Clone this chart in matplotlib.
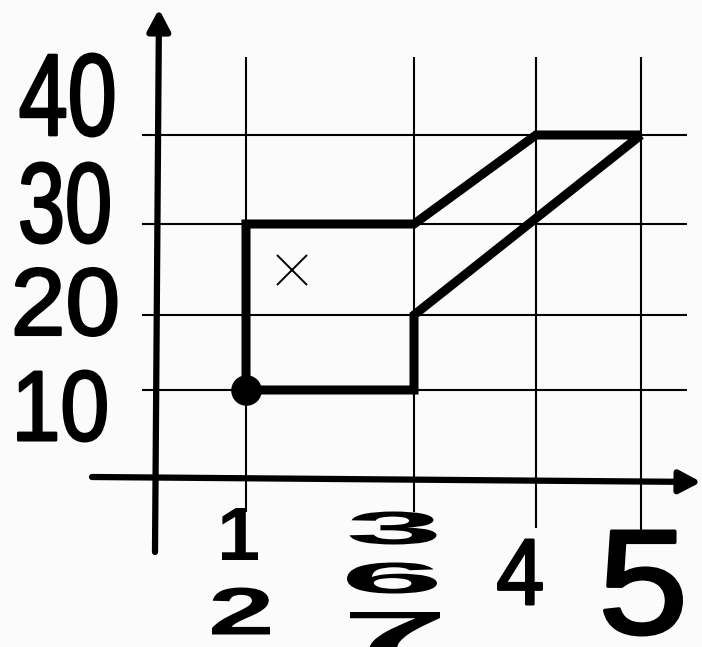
import numpy as np
import matplotlib
matplotlib.use("Agg")
import matplotlib.pyplot as plt
from matplotlib import patheffects
from matplotlib.transforms import Affine2D
from matplotlib.patches import FancyArrowPatch

# ---------------- data ----------------
x_ticks = [1, 3, 4, 5]
y_ticks = [10, 20, 30, 40]
y_tick_labels = ["10", "20", "30", "40"]
x_tick_labels = [["1", "2"], ["3", "6", "7"], ["4"], ["5"]]
# closed outline, starting and ending at the sharp corner (5, 40)
path_x = [5, 3, 3, 1, 1, 3, 4, 5]
path_y = [40, 20, 10, 10, 30, 30, 40, 40]
start_x, start_y = [1], [10]
cross_x, cross_y = [1.55], [25]

# ---------------- layout (pixels, measured from top-left) ----------------
W, H = 702, 647
x_grid_px = [246, 414, 536, 641]
y_grid_px = [390, 315, 224, 135]
vgrid_top = 57
vgrid_bottom = [512, 512, 528, 530]
hgrid_left, hgrid_right = 142, 687
# label ink boxes: (center x, center y, width, height, bold, extra stroke px)
y_label_boxes = [(62, 406, 90, 73, False, 2.5), (66, 302, 103, 70, False, 2.5),
                 (65, 203, 90, 83, False, 2.5), (67, 95, 95, 85, False, 2.5)]
x_label_boxes = [[(240, 534, 36, 52, True, 0), (241, 611, 58, 47, True, 0)],
                 [(393, 528, 87, 33, True, 0), (392, 578, 90, 31, True, 0),
                  (395, 631, 90, 38, True, 0)],
                 [(520, 572, 46, 67, False, 2.5)],
                 [(643, 583, 80, 107, False, 3.5)]]


def piecewise(vals, pix):
    vals = np.asarray(vals, float)
    pix = np.asarray(pix, float)
    s0 = (pix[1] - pix[0]) / (vals[1] - vals[0])
    s1 = (pix[-1] - pix[-2]) / (vals[-1] - vals[-2])

    def f(v):
        v = np.asarray(v, float)
        out = np.interp(v, vals, pix)
        out = np.where(v < vals[0], pix[0] + (v - vals[0]) * s0, out)
        out = np.where(v > vals[-1], pix[-1] + (v - vals[-1]) * s1, out)
        return out

    def g(p):
        p = np.asarray(p, float)
        out = np.interp(p, pix, vals)
        out = np.where(p < pix[0], vals[0] + (p - pix[0]) / s0, out)
        out = np.where(p > pix[-1], vals[-1] + (p - pix[-1]) / s1, out)
        return out
    return f, g


class FitBox(patheffects.AbstractPathEffect):
    """Draw the text glyphs stretched to a given ink box (in pixels)."""

    def __init__(self, w, h, stroke_px=0.0):
        super().__init__()
        self.w, self.h = w, h
        self.stroke_px = stroke_px
        self.text = None

    def draw_path(self, renderer, gc, tpath, affine, rgbFace=None):
        ext = affine.transform_path(tpath).get_extents()
        sx = (self.w - self.stroke_px) / max(ext.width, 1e-6)
        sy = (self.h - self.stroke_px) / max(ext.height, 1e-6)
        ax_, ay_ = self.text.get_transform().transform(self.text.get_position())
        extra = (Affine2D()
                 .translate(-(ext.x0 + ext.width / 2), -(ext.y0 + ext.height / 2))
                 .scale(sx, sy)
                 .translate(ax_, ay_))
        gc0 = renderer.new_gc()
        gc0.copy_properties(gc)
        if self.stroke_px > 0:
            gc0.set_linewidth(self.stroke_px * 72.0 / renderer.dpi)
            gc0.set_foreground(rgbFace if rgbFace is not None else "black")
            gc0.set_joinstyle("round")
        else:
            gc0.set_linewidth(0)
        renderer.draw_path(gc0, tpath, affine + extra, rgbFace)
        gc0.restore()


fig = plt.figure(figsize=(W / 100, H / 100), dpi=100)
bg = "#fbfbfc"
fig.patch.set_facecolor(bg)
ax = fig.add_axes([0, 0, 1, 1])
ax.set_facecolor(bg)
ax.set_axis_off()

fx, gx = piecewise(x_ticks, x_grid_px)
fy, gy = piecewise(y_ticks, [H - p for p in y_grid_px])
ax.set_xscale("function", functions=(fx, gx))
ax.set_yscale("function", functions=(fy, gy))
ax.set_xlim(float(gx(0)), float(gx(W)))
ax.set_ylim(float(gy(0)), float(gy(H)))

# grid lines
ax.vlines(x_ticks, [1 - b / H for b in vgrid_bottom], 1 - vgrid_top / H,
          transform=ax.get_xaxis_transform(), color="black", lw=1.5, zorder=1)
ax.hlines(y_ticks, hgrid_left / W, hgrid_right / W,
          transform=ax.get_yaxis_transform(), color="black", lw=1.5, zorder=1)

# axes with arrows
arrow_style = "-|>,head_length=0.32,head_width=0.17"
ax.add_patch(FancyArrowPatch((155 / W, 1 - 552 / H), (159 / W, 1 - 9 / H),
                             transform=ax.transAxes, arrowstyle=arrow_style,
                             mutation_scale=40, lw=4.5, color="black",
                             shrinkA=0, shrinkB=0, zorder=3))
ax.add_patch(FancyArrowPatch((92 / W, 1 - 477 / H), (701 / W, 1 - 482 / H),
                             transform=ax.transAxes, arrowstyle=arrow_style,
                             mutation_scale=40, lw=4.5, color="black",
                             shrinkA=0, shrinkB=0, zorder=3))

# shape
ax.plot(path_x, path_y, color="black", lw=6.5, solid_joinstyle="miter",
        solid_capstyle="butt", zorder=4)
ax.plot(start_x, start_y, "o", ms=21, color="black", zorder=5)
ax.plot(cross_x, cross_y, marker="x", ms=22, mew=1.4, color="black",
        linestyle="none", zorder=5)


def put_label(s, box):
    cx, cy, w, h, bold, stroke = box
    eff = FitBox(w, h, stroke)
    t = ax.text(cx / W, 1 - cy / H, s, transform=ax.transAxes,
                ha="center", va="center_baseline",
                fontsize=h * 0.55, family="Liberation Sans",
                fontweight="bold" if bold else "normal",
                color="black", path_effects=[eff], zorder=6)
    eff.text = t
    return t


for s, box in zip(y_tick_labels, y_label_boxes):
    put_label(s, box)
for labels, boxes in zip(x_tick_labels, x_label_boxes):
    for s, box in zip(labels, boxes):
        put_label(s, box)

fig.savefig("out.png", dpi=100, facecolor=bg)
